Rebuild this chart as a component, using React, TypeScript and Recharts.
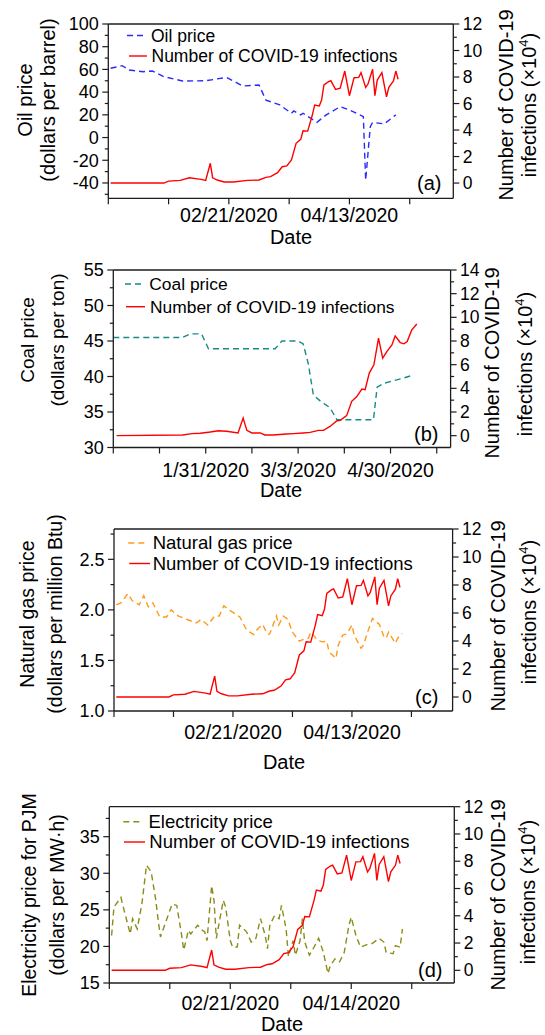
import React from "react";
import { LineChart, Line, XAxis, YAxis, ReferenceLine } from "recharts";

const FONT = '"Liberation Sans", Arial, Helvetica, sans-serif';
const INK = "#1c1c1c";
const RED = "#ff0000";

// x = days counted from 12/31/2019; infections in units of 1e4
const covidDays = [1, 24, 26, 31, 35, 40, 42, 44, 45, 47, 50, 54, 60, 65, 68, 70, 73, 75, 77, 79, 81, 83, 84, 86, 88, 89, 91, 92, 93, 95, 96, 98, 100, 102, 104, 106, 108, 109, 111, 112, 114, 115, 116, 118, 120, 121, 123, 124, 125];
const covidCases = [0, 0, 0.15, 0.2, 0.4, 0.28, 0.2, 1.49, 0.4, 0.23, 0.08, 0.08, 0.2, 0.23, 0.43, 0.48, 0.78, 1.23, 1.3, 1.74, 3.0, 3.3, 3.95, 3.92, 5.13, 5.89, 5.81, 6.26, 7.4, 7.65, 7.72, 7.07, 7.15, 8.45, 6.59, 7.95, 7.97, 8.33, 7.22, 7.47, 8.58, 6.59, 7.77, 8.33, 6.51, 7.22, 7.7, 8.45, 7.83];

const oilDays = [1, 6, 9, 15, 19, 24, 32, 42, 51, 58, 65, 68, 74, 79, 80, 83, 84, 90, 94, 100, 104, 110, 111, 113, 114, 119, 124];
const oilPrice = [61, 63.3, 59.5, 58, 58.6, 53.6, 49.8, 50, 53, 45.4, 46.3, 33, 28.7, 21.4, 23.4, 20, 21.4, 13.4, 20, 27.2, 24.3, 18.4, -37.6, 9.6, 13.4, 12, 20];

const gasDays = [1, 3, 6, 8, 11, 13, 15, 17, 20, 23, 25, 28, 32, 36, 38, 41, 44, 46, 48, 51, 55, 58, 61, 63, 65, 67, 68, 70, 71, 72, 74, 76, 78, 81, 83, 85, 86, 89, 91, 93, 94, 97, 98, 100, 101, 102, 104, 105, 108, 109, 111, 113, 116, 118, 119, 120, 123, 124, 126];
const gasPrice = [2.05, 2.07, 2.16, 2.09, 2.05, 2.14, 2.03, 2.07, 1.93, 1.93, 2.0, 1.94, 1.905, 1.87, 1.905, 1.85, 1.94, 1.94, 2.04, 1.99, 1.93, 1.8, 1.757, 1.816, 1.856, 1.76, 1.76, 1.88, 1.94, 1.85, 1.94, 1.905, 1.78, 1.69, 1.71, 1.72, 1.78, 1.7, 1.684, 1.69, 1.585, 1.52, 1.65, 1.75, 1.757, 1.77, 1.85, 1.75, 1.62, 1.65, 1.79, 1.915, 1.856, 1.733, 1.72, 1.78, 1.67, 1.72, 1.767];

const powerDays = [1, 2, 5, 6, 9, 10, 12, 14, 16, 18, 20, 21, 22, 25, 27, 29, 31, 32, 34, 35, 38, 40, 41, 42, 44, 45, 46, 49, 50, 52, 53, 55, 56, 59, 61, 63, 65, 67, 68, 69, 71, 73, 74, 76, 77, 79, 80, 82, 83, 84, 86, 88, 90, 92, 94, 95, 97, 99, 101, 103, 104, 106, 108, 111, 113, 116, 118, 119, 122, 123, 125, 126];
const powerPrice = [21.5, 25.4, 26.7, 25.4, 21.7, 23.8, 22.4, 25.8, 31.1, 30.2, 26.3, 23.6, 21.3, 24.0, 25.8, 25.6, 21.7, 19.5, 22.2, 21.7, 22.9, 22.2, 22.0, 20.8, 28.3, 26.3, 21.1, 26.3, 25.4, 20.8, 19.9, 19.9, 22.9, 22.0, 20.6, 21.1, 23.8, 21.5, 19.7, 22.9, 24.2, 23.8, 25.6, 22.4, 18.6, 20.8, 18.8, 20.8, 23.8, 20.6, 18.8, 19.9, 21.1, 19.2, 16.3, 17.4, 18.3, 17.9, 19.2, 22.9, 24.0, 21.5, 19.9, 20.3, 20.4, 21.1, 20.6, 19.2, 19.0, 20.1, 19.9, 22.4];

// coal panel is plotted against its own observation index
const coalIndex = [0, 15, 16.6, 19.1, 20.6, 35, 36.5, 40, 41.1, 42.2, 43.3, 44.7, 46.9, 48.4, 56.3, 57.1, 58.4, 60.6, 62.4, 64.9];
const coalPrice = [45.5, 45.5, 46.0, 46.0, 43.9, 43.9, 45.0, 45.0, 44.6, 41.8, 37.4, 36.6, 35.6, 33.9, 33.9, 38.5, 39.0, 39.4, 39.7, 40.2];
const coalCovidIndex = [0.7, 15, 17, 18.8, 21, 22.7, 24.5, 27, 28.1, 28.9, 30, 31.8, 32.8, 34.6, 37.5, 39, 41.1, 42.6, 44.4, 45.5, 46.9, 48.4, 49.1, 50.5, 51.6, 52.7, 53.8, 54.5, 55.4, 56.4, 57.4, 58.3, 59.2, 60.3, 61, 62.1, 62.9, 63.6, 64.6, 65.7];
const coalCovidCases = [0, 0.06, 0.17, 0.2, 0.31, 0.42, 0.37, 0.23, 1.49, 0.45, 0.23, 0.23, 0.06, 0.06, 0.14, 0.17, 0.23, 0.28, 0.45, 0.45, 0.78, 1.26, 1.29, 1.69, 2.9, 3.3, 3.94, 3.88, 5.29, 5.99, 8.24, 6.55, 7.1, 7.67, 8.43, 7.87, 7.76, 7.95, 8.94, 9.44];

const oilTicks = [-50, -40, -30, -20, -10, 0, 10, 20, 30, 40, 50, 60, 70, 80, 90, 100];
const oilLabels = [-40, -20, 0, 20, 40, 60, 80, 100];
const coalTicks = [30, 32.5, 35, 37.5, 40, 42.5, 45, 47.5, 50, 52.5, 55];
const coalLabels = [30, 35, 40, 45, 50, 55];
const gasTicks = [1, 1.25, 1.5, 1.75, 2, 2.25, 2.5, 2.75];
const gasLabels = [1, 1.5, 2, 2.5];
const powerTicks = [15, 17.5, 20, 22.5, 25, 27.5, 30, 32.5, 35, 37.5];
const powerLabels = [15, 20, 25, 30, 35];
const caseTicks12 = [0, 1, 2, 3, 4, 5, 6, 7, 8, 9, 10, 11, 12];
const caseLabels12 = [0, 2, 4, 6, 8, 10, 12];
const caseTicks14 = [0, 1, 2, 3, 4, 5, 6, 7, 8, 9, 10, 11, 12, 13, 14];
const caseLabels14 = [0, 2, 4, 6, 8, 10, 12, 14];
const dayTicks = [0, 26, 52, 78, 104, 130];
const dayLabelsA: Record<number, string> = { 52: "02/21/2020", 104: "04/13/2020" };
const dayLabelsD: Record<number, string> = { 52: "02/21/2020", 104: "04/14/2020" };
const coalTicksX = [0, 10, 20, 30, 40, 50, 60, 70];
const coalLabelsX: Record<number, string> = { 20: "1/31/2020", 40: "3/3/2020", 60: "4/30/2020" };

const zip = (xs: number[], ys: number[]) => xs.map((x, i) => ({ x, y: ys[i] }));

const yTick = (side: "left" | "right", labels: number[], digits: number, size: number) => (p: any) => {
  const v = p.payload.value;
  const major = labels.some((m) => Math.abs(m - v) < 1e-6);
  const dir = side === "left" ? -1 : 1;
  return (
    <g>
      <line x1={p.x} x2={p.x + dir * (major ? 6 : 3.5)} y1={p.y} y2={p.y} stroke={INK} strokeWidth={1.2} />
      {major && (
        <text x={p.x + dir * 9.5} y={p.y + size * 0.35} textAnchor={side === "left" ? "end" : "start"} fontSize={size} fontFamily={FONT} fill="#000">
          {v.toFixed(digits)}
        </text>
      )}
    </g>
  );
};

const xTick = (labels: Record<number, string>, dy: number) => (p: any) => {
  const lab = labels[p.payload.value];
  return (
    <g>
      <line x1={p.x} x2={p.x} y1={p.y} y2={p.y + 6} stroke={INK} strokeWidth={1.2} />
      {lab && (
        <text x={p.x} y={p.y + dy} textAnchor="middle" fontSize={19.5} fontFamily={FONT} fill="#000">
          {lab}
        </text>
      )}
    </g>
  );
};

type Series = { xs: number[]; ys: number[]; axis: "l" | "r"; color: string; dashed?: boolean };

function Panel(p: {
  top: number; height: number; left: number; right: number; plotTop: number; plotBottom: number;
  xDomain: [number, number]; xTicks: number[]; xLabels: Record<number, string>; xDy: number;
  lDomain: [number, number]; lTicks: number[]; lLabels: number[]; lDigits: number;
  rDomain: [number, number]; rTicks: number[]; rLabels: number[];
  series: Series[];
}) {
  const axisLine = { stroke: INK, strokeWidth: 1.3 };
  return (
    <div style={{ position: "absolute", left: 0, top: p.top }}>
      <LineChart width={545} height={p.height} margin={{ top: p.plotTop - p.top, right: 0, bottom: 0, left: 0 }}>
        <XAxis xAxisId="x" type="number" dataKey="x" domain={p.xDomain} allowDataOverflow ticks={p.xTicks} interval={0}
          height={p.top + p.height - p.plotBottom} tickLine={false} tickSize={0} tickMargin={0} axisLine={axisLine}
          tick={xTick(p.xLabels, p.xDy)} />
        <YAxis yAxisId="l" type="number" domain={p.lDomain} allowDataOverflow ticks={p.lTicks} interval={0} width={p.left}
          tickLine={false} tickSize={0} tickMargin={0} axisLine={axisLine} tick={yTick("left", p.lLabels, p.lDigits, 18)} />
        <YAxis yAxisId="r" orientation="right" type="number" domain={p.rDomain} allowDataOverflow ticks={p.rTicks} interval={0}
          width={545 - p.right} tickLine={false} tickSize={0} tickMargin={0} axisLine={axisLine} tick={yTick("right", p.rLabels, 0, 17.5)} />
        <ReferenceLine xAxisId="x" yAxisId="l" y={p.lDomain[1]} stroke={INK} strokeWidth={1.3} />
        {p.series.map((s, i) => (
          <Line key={i} xAxisId="x" yAxisId={s.axis} data={zip(s.xs, s.ys)} dataKey="y" type="linear" stroke={s.color}
            strokeWidth={1.4} strokeDasharray={s.dashed ? "6 4" : undefined} dot={false} activeDot={false} isAnimationActive={false} />
        ))}
      </LineChart>
    </div>
  );
}

function VText({ cx, cy, size, children }: { cx: number; cy: number; size: number; children: React.ReactNode }) {
  return (
    <text x={cx} y={cy + size * 0.35} transform={`rotate(-90 ${cx} ${cy})`} textAnchor="middle" fontSize={size} fill="#000">
      {children}
    </text>
  );
}

function CasesTitle({ x1, x2, cy1, cy2 }: { x1: number; x2: number; cy1: number; cy2: number }) {
  return (
    <>
      <VText cx={x1} cy={cy1} size={20}>Number of COVID-19</VText>
      <VText cx={x2} cy={cy2} size={20}>
        infections (×10<tspan dy={-8} fontSize={13}>4</tspan><tspan dy={8}>)</tspan>
      </VText>
    </>
  );
}

function LegendRow({ x1, x2, tx, y, size, color, dashed, label }: { x1: number; x2: number; tx: number; y: number; size: number; color: string; dashed?: boolean; label: string }) {
  return (
    <g>
      <line x1={x1} x2={x2} y1={y} y2={y} stroke={color} strokeWidth={1.4} strokeDasharray={dashed ? "6 4" : undefined} />
      <text x={tx} y={y + size * 0.35} fontSize={size} fill="#000">{label}</text>
    </g>
  );
}

function Overlay() {
  return (
    <svg width={545} height={1035} style={{ position: "absolute", left: 0, top: 0, pointerEvents: "none" }} fontFamily={FONT}>
      {/* (a) */}
      <VText cx={25} cy={100} size={20}>Oil price</VText>
      <VText cx={47.5} cy={100} size={20}>(dollars per barrel)</VText>
      <CasesTitle x1={506} x2={529} cy1={105} cy2={105} />
      <LegendRow x1={127} x2={146} tx={151} y={35.5} size={17.5} color="#2a2aff" dashed label="Oil price" />
      <LegendRow x1={129} x2={147} tx={151.5} y={56} size={17.5} color={RED} label="Number of COVID-19 infections" />
      <text x={417} y={182.7 + 7} fontSize={20}>(a)</text>
      <text x={291} y={244.3} fontSize={20} textAnchor="middle">Date</text>

      {/* (b) */}
      <VText cx={27} cy={340} size={19}>Coal price</VText>
      <VText cx={57} cy={340} size={19}>(dollars per ton)</VText>
      <CasesTitle x1={492} x2={525} cy1={363} cy2={364} />
      <LegendRow x1={125} x2={143.3} tx={149.3} y={284} size={17.4} color="#178a8a" dashed label="Coal price" />
      <LegendRow x1={126} x2={145} tx={150} y={306.7} size={17.4} color={RED} label="Number of COVID-19 infections" />
      <text x={414} y={434 + 7} fontSize={20}>(b)</text>
      <text x={281} y={497} fontSize={20} textAnchor="middle">Date</text>

      {/* (c) */}
      <VText cx={27} cy={614} size={19.5}>Natural gas price</VText>
      <VText cx={55} cy={614} size={19.5}>(dollars per million Btu)</VText>
      <CasesTitle x1={498} x2={529} cy1={616} cy2={612} />
      <LegendRow x1={128.3} x2={148.3} tx={152.7} y={543} size={18.5} color="#ff9a1a" dashed label="Natural gas price" />
      <LegendRow x1={129.3} x2={150} tx={152.7} y={563.5} size={18.5} color={RED} label="Number of COVID-19 infections" />
      <text x={415} y={696.7 + 7} fontSize={20}>(c)</text>
      <text x={284} y={769} fontSize={20} textAnchor="middle">Date</text>

      {/* (d) */}
      <VText cx={29} cy={895} size={19.5}>Electricity price for PJM</VText>
      <VText cx={57} cy={895} size={19.5}>(dollars per MW·h)</VText>
      <CasesTitle x1={498} x2={528} cy1={895} cy2={892} />
      <LegendRow x1={123.3} x2={141.7} tx={148.5} y={821.7} size={18.5} color="#8c8c1a" dashed label="Electricity price" />
      <LegendRow x1={124} x2={145} tx={149.3} y={842} size={18.5} color={RED} label="Number of COVID-19 infections" />
      <text x={418} y={970 + 7} fontSize={20}>(d)</text>
      <text x={282} y={1030.5} fontSize={20} textAnchor="middle">Date</text>
    </svg>
  );
}

export default function App() {
  return (
    <div style={{ position: "absolute", left: 0, top: 0, width: 545, height: 1035, background: "#fff", fontFamily: FONT }}>
      <Panel top={0} height={250} left={108.3} right={453.3} plotTop={24} plotBottom={198.3}
        xDomain={[0, 148.8]} xTicks={dayTicks} xLabels={dayLabelsA} xDy={23.4}
        lDomain={[-53.5, 100]} lTicks={oilTicks} lLabels={oilLabels} lDigits={0}
        rDomain={[-1.15, 12]} rTicks={caseTicks12} rLabels={caseLabels12}
        series={[
          { xs: oilDays, ys: oilPrice, axis: "l", color: "#2a2aff", dashed: true },
          { xs: covidDays, ys: covidCases, axis: "r", color: RED },
        ]} />
      <Panel top={250} height={250} left={113.3} right={450.6} plotTop={270} plotBottom={447.5}
        xDomain={[0, 73]} xTicks={coalTicksX} xLabels={coalLabelsX} xDy={29.2}
        lDomain={[30, 55]} lTicks={coalTicks} lLabels={coalLabels} lDigits={0}
        rDomain={[-1, 14]} rTicks={caseTicks14} rLabels={caseLabels14}
        series={[
          { xs: coalIndex, ys: coalPrice, axis: "l", color: "#178a8a", dashed: true },
          { xs: coalCovidIndex, ys: coalCovidCases, axis: "r", color: RED },
        ]} />
      <Panel top={500} height={275} left={114} right={452.6} plotTop={529} plotBottom={711}
        xDomain={[0, 148]} xTicks={dayTicks} xLabels={dayLabelsA} xDy={28.3}
        lDomain={[1, 2.8]} lTicks={gasTicks} lLabels={gasLabels} lDigits={1}
        rDomain={[-1, 12]} rTicks={caseTicks12} rLabels={caseLabels12}
        series={[
          { xs: gasDays, ys: gasPrice, axis: "l", color: "#ff9a1a", dashed: true },
          { xs: covidDays, ys: covidCases, axis: "r", color: RED },
        ]} />
      <Panel top={775} height={260} left={109.3} right={454.3} plotTop={806.7} plotBottom={983}
        xDomain={[0, 148.3]} xTicks={dayTicks} xLabels={dayLabelsD} xDy={27}
        lDomain={[15, 39.1]} lTicks={powerTicks} lLabels={powerLabels} lDigits={0}
        rDomain={[-0.93, 12]} rTicks={caseTicks12} rLabels={caseLabels12}
        series={[
          { xs: powerDays, ys: powerPrice, axis: "l", color: "#8c8c1a", dashed: true },
          { xs: covidDays, ys: covidCases, axis: "r", color: RED },
        ]} />
      <Overlay />
    </div>
  );
}
